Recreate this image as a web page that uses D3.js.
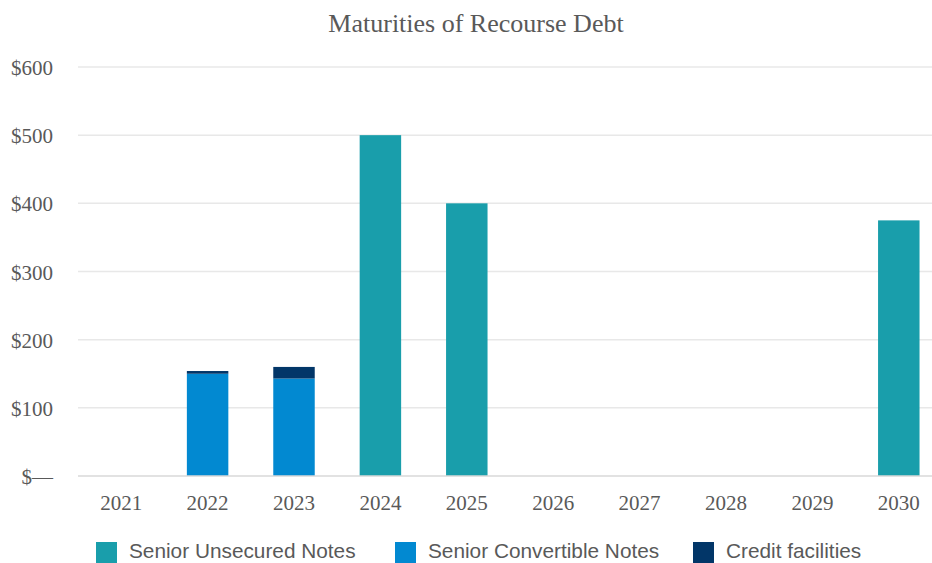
<!DOCTYPE html>
<html>
<head>
<meta charset="utf-8">
<script src="https://cdn.jsdelivr.net/npm/d3@7"></script>
<style>
  body { margin: 0; background: #fff; }
  svg { display: block; }
</style>
</head>
<body>
<svg id="chart" width="932" height="563"></svg>
<script>
const YEARS = ["2021", "2022", "2023", "2024", "2025", "2026", "2027", "2028", "2029", "2030"];
const SENIOR_UNSECURED = [0, 0, 0, 500, 400, 0, 0, 0, 0, 375];
const SENIOR_CONVERTIBLE = [0, 150, 143, 0, 0, 0, 0, 0, 0, 0];
const CREDIT_FACILITIES = [0, 4, 17, 0, 0, 0, 0, 0, 0, 0];
const SERIES_NAMES = ["Senior Unsecured Notes", "Senior Convertible Notes", "Credit facilities"];
const Y_TICKS = [0, 100, 200, 300, 400, 500, 600];

const COLORS = ["#199eab", "#0289d1", "#023668"];
const TEXT_COLOR = "#595959";

const svg = d3.select("#chart");

// stack the three series per year
let rows = YEARS.map((y, i) => ({
    year: y,
    [SERIES_NAMES[0]]: SENIOR_UNSECURED[i],
    [SERIES_NAMES[1]]: SENIOR_CONVERTIBLE[i],
    [SERIES_NAMES[2]]: CREDIT_FACILITIES[i]
}));
let stacked = d3.stack().keys(SERIES_NAMES)(rows);

const xScale = d3.scaleBand()
    .domain(YEARS)
    .range([78, 942])
    .padding(0);

const yScale = d3.scaleLinear()
    .domain([0, 600])
    .range([476, 67]);

// title
svg.append("text")
    .attr("x", 476)
    .attr("y", 32)
    .attr("text-anchor", "middle")
    .style("font-family", "'Liberation Serif', serif")
    .style("font-size", "26px")
    .style("fill", TEXT_COLOR)
    .text("Maturities of Recourse Debt");

// grid lines
svg.append("g")
    .selectAll("line")
    .data(Y_TICKS.filter(d => d > 0))
    .enter()
    .append("line")
        .attr("x1", 78)
        .attr("x2", 932)
        .attr("y1", d => yScale(d))
        .attr("y2", d => yScale(d))
        .attr("stroke", "#e8e8e8")
        .attr("stroke-width", 1.5);

// y labels
svg.append("g")
    .selectAll("text")
    .data(Y_TICKS)
    .enter()
    .append("text")
        .attr("x", 53)
        .attr("y", d => yScale(d) + 8)
        .attr("text-anchor", "end")
        .style("font-family", "'Liberation Serif', serif")
        .style("font-size", "21px")
        .style("fill", TEXT_COLOR)
        .text(d => d === 0 ? "$\u2014" : "$" + d);

// bars
const barW = xScale.bandwidth() * 0.48;
svg.append("g")
    .selectAll("g")
    .data(stacked)
    .enter()
    .append("g")
        .attr("fill", (d, i) => COLORS[i])
    .selectAll("rect")
    .data(d => d.filter(p => p[1] - p[0] > 0))
    .enter()
    .append("rect")
        .attr("x", d => xScale(d.data.year) + (xScale.bandwidth() - barW) / 2)
        .attr("width", barW)
        .attr("y", d => yScale(d[1]))
        .attr("height", d => yScale(d[0]) - yScale(d[1]));

// x axis line
svg.append("line")
    .attr("x1", 78)
    .attr("x2", 932)
    .attr("y1", yScale(0))
    .attr("y2", yScale(0))
    .attr("stroke", "#d9d9d9")
    .attr("stroke-width", 1.5);

// x labels
svg.append("g")
    .selectAll("text")
    .data(YEARS)
    .enter()
    .append("text")
        .attr("x", d => xScale(d) + xScale.bandwidth() / 2)
        .attr("y", 510)
        .attr("text-anchor", "middle")
        .style("font-family", "'Liberation Serif', serif")
        .style("font-size", "21px")
        .style("fill", TEXT_COLOR)
        .text(d => d);

// legend
const LEGEND_X = [96, 395, 693];
let legend = svg.append("g")
    .selectAll("g")
    .data(SERIES_NAMES)
    .enter()
    .append("g")
        .attr("transform", (d, i) => "translate(" + LEGEND_X[i] + ",542)");

legend.append("rect")
    .attr("width", 21)
    .attr("height", 21)
    .attr("fill", (d, i) => COLORS[i]);

legend.append("text")
    .attr("x", 33)
    .attr("y", 16)
    .style("font-family", "'Liberation Sans', Arial, sans-serif")
    .style("font-size", "20.8px")
    .style("fill", TEXT_COLOR)
    .text(d => d);
</script>
</body>
</html>
